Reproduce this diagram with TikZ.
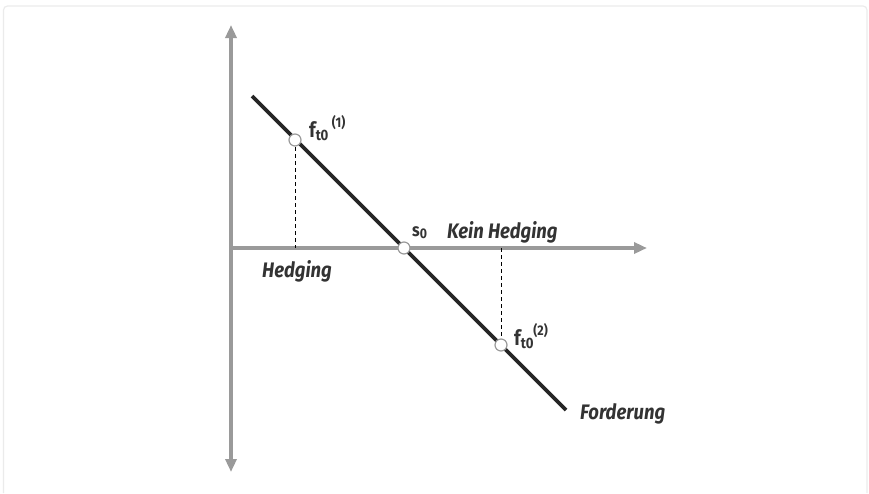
\documentclass[tikz,border=0pt]{standalone}
\usepackage{fontspec}
\setmainfont{Fira Sans}
\newfontfamily\lblfont[FakeStretch=0.88]{Fira Sans}
\usetikzlibrary{arrows.meta}
\definecolor{axisgray}{HTML}{9A9A9A}
\definecolor{linedark}{HTML}{262626}
\definecolor{txtdark}{HTML}{333333}
\definecolor{framegray}{HTML}{EBEBEB}
\tikzset{
  axis/.style={draw=axisgray, line width=3.6pt, -{Triangle[length=13pt,width=11pt]}},
  demand/.style={draw=linedark, line width=3.8pt},
  pt/.style={circle, draw=axisgray, fill=white, line width=1.2pt, minimum size=12pt, inner sep=0pt},
  drop/.style={draw=black, line width=0.9pt, dash pattern=on 4pt off 3pt},
  itl/.style={font=\lblfont\fontsize{21}{25}\selectfont\bfseries\itshape, text=txtdark, inner sep=0pt},
  sym/.style={font=\lblfont\fontsize{21}{25}\selectfont\bfseries, text=txtdark, inner sep=0pt}
}
\newcommand{\subsc}[1]{\raisebox{-0.3ex}{\fontsize{15}{17}\selectfont #1}}
\newcommand{\supsc}[1]{\raisebox{0.85ex}{\fontsize{14}{16}\selectfont #1}}
\begin{document}
\begin{tikzpicture}[x=1pt,y=-1pt]
\useasboundingbox (0,0) rectangle (869,493);
% faint frame
\draw[framegray, line width=1.2pt, rounded corners=4pt] (3.5,493) -- (3.5,6) -- (867,6) -- (867,493);
% coordinates
\coordinate (o) at (231,248);
\coordinate (ytop) at (231,25);
\coordinate (ybot) at (231,472);
\coordinate (xend) at (647,248);
\coordinate (la) at (252,96);
\coordinate (lb) at (566,410);
\coordinate (h1) at (295,248);
\coordinate (h2) at (501,248);
% axes
\draw[axis] (o) -- (ytop);
\draw[axis] (o) -- (ybot);
\draw[axis, shorten <=-1.8pt] (o) -- (xend);
% dashed drops
\draw[drop] (295,140) -- (h1);
\draw[drop] (h2) -- (501,345);
% demand line
\draw[demand] (la) -- (lb);
% points
\node[pt] (f1) at (295,140) {};
\node[pt] (s0) at (404,248) {};
\node[pt] (f2) at (501,345) {};
% labels
\node[sym, anchor=base west] (lf1) at (309,137) {f\subsc{t0}\,\supsc{(1)}};
\node[sym, anchor=base west] (lf2) at (514,345) {f\subsc{t0}\supsc{(2)}};
\node[sym, anchor=base west, font=\lblfont\fontsize{18}{21}\selectfont\bfseries] (ls0) at (412,236) {s\raisebox{-0.3ex}{\fontsize{14}{16}\selectfont 0}};
\node[itl, anchor=base west] (kh) at (447,238) {Kein Hedging};
\node[itl, anchor=base west] (hd) at (262,277) {Hedging};
\node[itl, anchor=base west] (fd) at (580,419) {Forderung};
\end{tikzpicture}
\end{document}
